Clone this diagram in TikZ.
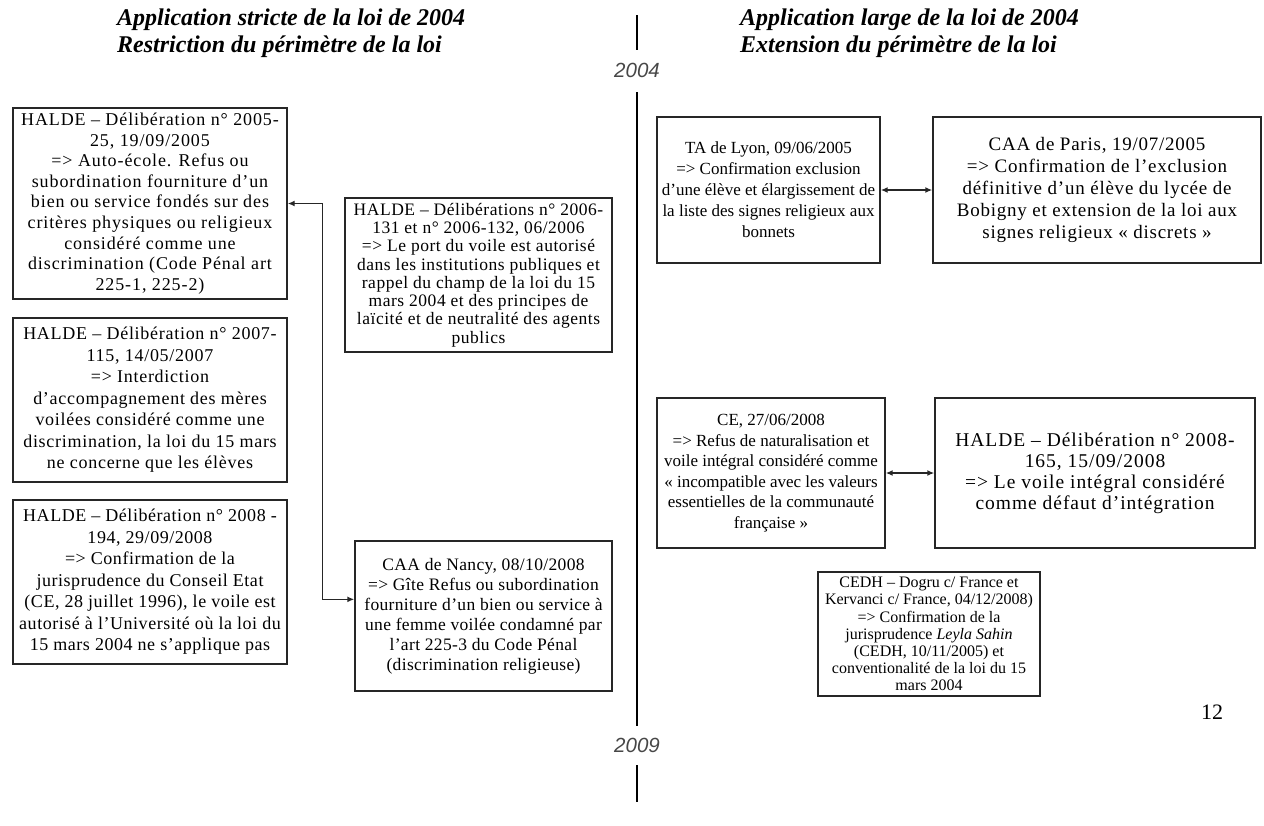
\documentclass[tikz,border=0pt]{standalone}
\usepackage{fontspec}
\setmainfont{Liberation Serif}
\newfontfamily\yearfont{Liberation Sans}
\usetikzlibrary{arrows.meta,calc}
\newcommand{\bfnt}[3]{\addfontfeature{LetterSpace=#3}\fontsize{#1}{#2}\selectfont}
\tikzset{
  box/.style={draw=black!85, line width=1.4pt, fill=white, inner sep=0pt, align=center},
  conn/.style={draw=black!85, line width=1.4pt, {Latex[length=7pt,width=6pt]}-{Latex[length=7pt,width=6pt]}},
  tl/.style={draw=black, line width=1.6pt},
  year/.style={font=\yearfont\itshape\fontsize{20.5}{22}\selectfont, text=black!72, inner sep=0pt},
  title/.style={font=\bfseries\itshape\fontsize{24}{27}\selectfont, inner sep=0pt, anchor=base west}
}
\begin{document}
\begin{tikzpicture}[x=1pt,y=-1pt]
\useasboundingbox (0,0) rectangle (1264,825);
% titles
\node[title] (TL1) at (117,25) {Application stricte de la loi de 2004};
\node[title] (TL2) at (117,52) {Restriction du périmètre de la loi};
\node[title] (TR1) at (740,25) {Application large de la loi de 2004};
\node[title] (TR2) at (740,52) {Extension du périmètre de la loi};
% timeline
\coordinate (t0) at (637,15);
\coordinate (t1) at (637,50);
\node[year] (Y4) at (637,70) {2004};
\coordinate (t2) at (637,92);
\coordinate (t3) at (637,726);
\node[year] (Y9) at (637,745) {2009};
\coordinate (t4) at (637,765);
\coordinate (t5) at (637,802);
\draw[tl] (t0) -- (t1);
\draw[tl] (t2) -- (t3);
\draw[tl] (t4) -- (t5);
% left column
\node[box, font=\bfnt{18}{20.6}{5}, minimum width=274pt, minimum height=191pt] (A) at (150,203.5) {HALDE – Délibération n° 2005-\\25, 19/09/2005\\=> Auto-école. Refus ou\\subordination fourniture d’un\\bien ou service fondés sur des\\critères physiques ou religieux\\considéré comme une\\discrimination (Code Pénal art\\225-1, 225-2)};
\node[box, font=\bfnt{18}{21.5}{4}, minimum width=274pt, minimum height=164pt] (B) at (150,400) {HALDE – Délibération n° 2007-\\115, 14/05/2007\\=> Interdiction\\d’accompagnement des mères\\voilées considéré comme une\\discrimination, la loi du 15 mars\\ne concerne que les élèves};
\node[box, font=\bfnt{18}{21.5}{3}, minimum width=274pt, minimum height=164pt] (C) at (150,582) {HALDE – Délibération n° 2008 -\\194, 29/09/2008\\=> Confirmation de la\\jurisprudence du Conseil Etat\\(CE, 28 juillet 1996), le voile est\\autorisé à l’Université où la loi du\\15 mars 2004 ne s’applique pas};
\node[box, font=\bfnt{17.5}{18.3}{3}, minimum width=267pt, minimum height=154pt] (D) at (478.5,275) {HALDE – Délibérations n° 2006-\\131 et n° 2006-132, 06/2006\\=> Le port du voile est autorisé\\dans les institutions publiques et\\rappel du champ de la loi du 15\\mars 2004 et des principes de\\laïcité et de neutralité des agents\\publics};
\node[box, font=\bfnt{17.5}{20}{2}, minimum width=257pt, minimum height=150pt] (E) at (483.5,616) {CAA de Nancy, 08/10/2008\\=> Gîte Refus ou subordination\\fourniture d’un bien ou service à\\une femme voilée condamné par\\l’art 225-3 du Code Pénal\\(discrimination religieuse)};
\coordinate (e1) at ($(E.north west)!0.39!(E.south west)$);
\draw[conn] (A.east) -- ++(35,0) |- (e1);
% right column
\node[box, font=\bfnt{17}{21}{0}, minimum width=223pt, minimum height=146pt] (F) at (768.5,190) {TA de Lyon, 09/06/2005\\=> Confirmation exclusion\\d’une élève et élargissement de\\la liste des signes religieux aux\\bonnets};
\node[box, font=\bfnt{19}{22}{4}, minimum width=328pt, minimum height=146pt] (G) at (1097,190) {CAA de Paris, 19/07/2005\\=> Confirmation de l’exclusion\\définitive d’un élève du lycée de\\Bobigny et extension de la loi aux\\signes religieux « discrets »};
\draw[conn] (F.east) -- (G.west);
\node[box, font=\bfnt{17}{20.5}{0}, minimum width=228pt, minimum height=150pt] (H) at (771,473) {CE, 27/06/2008\\=> Refus de naturalisation et\\voile intégral considéré comme\\« incompatible avec les valeurs\\essentielles de la communauté\\française »};
\node[box, font=\bfnt{19.5}{21}{5}, minimum width=320pt, minimum height=150pt] (I) at (1095,473) {HALDE – Délibération n° 2008-\\165, 15/09/2008\\=> Le voile intégral considéré\\comme défaut d’intégration};
\draw[conn] (H.east) -- (I.west);
\node[box, font=\bfnt{16}{17.2}{0}, minimum width=222pt, minimum height=124pt] (J) at (929,634) {CEDH – Dogru c/ France et\\Kervanci c/ France, 04/12/2008)\\=> Confirmation de la\\jurisprudence \textit{Leyla Sahin}\\(CEDH, 10/11/2005) et\\conventionalité de la loi du 15\\mars 2004};
\node[font=\fontsize{22}{24}\selectfont, inner sep=0pt] (P) at (1212,712) {12};
\end{tikzpicture}
\end{document}
